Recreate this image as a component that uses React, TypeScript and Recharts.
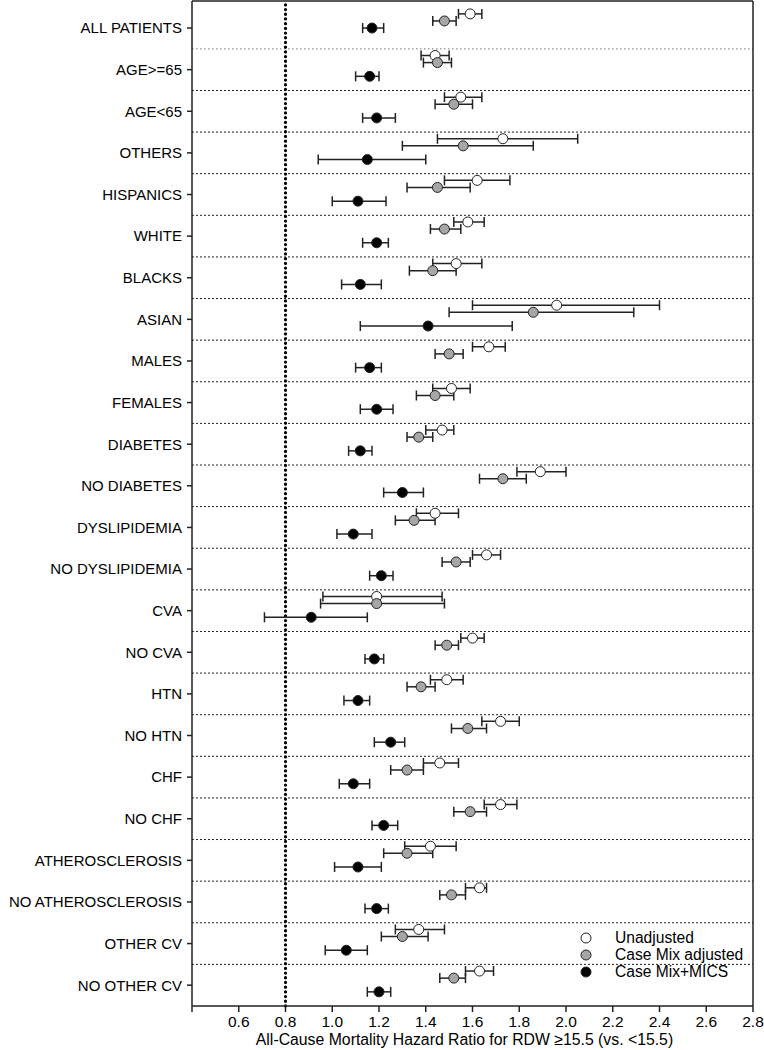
import { ErrorBar, Legend, ReferenceLine, Scatter, ScatterChart, XAxis, YAxis } from "recharts"

const categories = [
  "ALL PATIENTS", "AGE>=65", "AGE<65", "OTHERS", "HISPANICS", "WHITE", "BLACKS", "ASIAN",
  "MALES", "FEMALES", "DIABETES", "NO DIABETES", "DYSLIPIDEMIA", "NO DYSLIPIDEMIA", "CVA",
  "NO CVA", "HTN", "NO HTN", "CHF", "NO CHF", "ATHEROSCLEROSIS", "NO ATHEROSCLEROSIS",
  "OTHER CV", "NO OTHER CV",
]

const unadjusted = [1.59, 1.44, 1.55, 1.73, 1.62, 1.58, 1.53, 1.96, 1.67, 1.51, 1.47, 1.89, 1.44, 1.66, 1.19, 1.6, 1.49, 1.72, 1.46, 1.72, 1.42, 1.63, 1.37, 1.63]
const unadjustedLow = [1.54, 1.38, 1.48, 1.45, 1.48, 1.52, 1.43, 1.6, 1.6, 1.43, 1.4, 1.79, 1.36, 1.6, 0.96, 1.55, 1.42, 1.64, 1.39, 1.65, 1.31, 1.57, 1.27, 1.57]
const unadjustedHigh = [1.64, 1.5, 1.64, 2.05, 1.76, 1.65, 1.64, 2.4, 1.74, 1.59, 1.52, 2.0, 1.54, 1.72, 1.47, 1.65, 1.56, 1.8, 1.54, 1.79, 1.53, 1.66, 1.48, 1.69]

const caseMix = [1.48, 1.45, 1.52, 1.56, 1.45, 1.48, 1.43, 1.86, 1.5, 1.44, 1.37, 1.73, 1.35, 1.53, 1.19, 1.49, 1.38, 1.58, 1.32, 1.59, 1.32, 1.51, 1.3, 1.52]
const caseMixLow = [1.43, 1.39, 1.44, 1.3, 1.32, 1.42, 1.33, 1.5, 1.44, 1.36, 1.32, 1.63, 1.27, 1.47, 0.95, 1.44, 1.32, 1.51, 1.25, 1.52, 1.22, 1.46, 1.21, 1.46]
const caseMixHigh = [1.53, 1.51, 1.6, 1.86, 1.59, 1.55, 1.53, 2.29, 1.56, 1.52, 1.43, 1.83, 1.44, 1.59, 1.48, 1.54, 1.44, 1.66, 1.39, 1.66, 1.43, 1.57, 1.41, 1.57]

const mics = [1.17, 1.16, 1.19, 1.15, 1.11, 1.19, 1.12, 1.41, 1.16, 1.19, 1.12, 1.3, 1.09, 1.21, 0.91, 1.18, 1.11, 1.25, 1.09, 1.22, 1.11, 1.19, 1.06, 1.2]
const micsLow = [1.13, 1.1, 1.13, 0.94, 1.0, 1.13, 1.04, 1.12, 1.1, 1.12, 1.07, 1.22, 1.02, 1.16, 0.71, 1.14, 1.05, 1.18, 1.03, 1.17, 1.01, 1.14, 0.97, 1.15]
const micsHigh = [1.22, 1.2, 1.27, 1.4, 1.23, 1.24, 1.21, 1.77, 1.21, 1.26, 1.17, 1.39, 1.17, 1.26, 1.15, 1.22, 1.16, 1.31, 1.16, 1.28, 1.21, 1.24, 1.15, 1.25]

const xTicks = [0.4, 0.6, 0.8, 1.0, 1.2, 1.4, 1.6, 1.8, 2.0, 2.2, 2.4, 2.6, 2.8]

const FONT = "'Liberation Sans', Arial, sans-serif"
const Y_TOP = -0.65
const Y_BOTTOM = 23.5

// build one series; offset moves the dot inside its row
function rows(vals: number[], lo: number[], hi: number[], offset: (k: number) => number) {
  return vals.map((v, k) => ({ x: v, y: k + offset(k), err: [v - lo[k], hi[k] - v] }))
}

const series = [
  { name: "Unadjusted", fill: "#ffffff", data: rows(unadjusted, unadjustedLow, unadjustedHigh, () => -0.34) },
  { name: "Case Mix adjusted", fill: "#a6a6a6", data: rows(caseMix, caseMixLow, caseMixHigh, () => -0.17) },
  { name: "Case Mix+MICS", fill: "#000000", data: rows(mics, micsLow, micsHigh, (k) => (k === 0 ? 0 : 0.16)) },
]

function LegendBox() {
  return (
    <div style={{ fontFamily: FONT, fontSize: 15.6, color: "#000" }}>
      {series.map((s) => (
        <div key={s.name} style={{ height: 17, lineHeight: "17px", display: "flex", alignItems: "center" }}>
          <svg width={14} height={14} style={{ marginLeft: 1, marginRight: 22 }}>
            <circle cx={7} cy={7} r={5} fill={s.fill} stroke="#222" strokeWidth={1} />
          </svg>
          <span>{s.name}</span>
        </div>
      ))}
    </div>
  )
}

export default function App() {
  return (
    <div style={{ position: "absolute", left: 0, top: 0 }}>
      <ScatterChart width={764} height={1050} margin={{ top: 1, right: 11, bottom: 0, left: 0 }} style={{ fontFamily: FONT }}>
        <XAxis
          type="number"
          dataKey="x"
          domain={[0.4, 2.8]}
          ticks={xTicks}
          allowDataOverflow
          tickFormatter={(v: number) => (v === 0.4 ? "" : v.toFixed(1))}
          tick={{ fontSize: 15.5, fill: "#000", fontFamily: FONT }}
          tickSize={6}
          tickMargin={4}
          height={44}
          stroke="#222"
          strokeWidth={1.5}
          label={{ value: "All-Cause Mortality Hazard Ratio for RDW ≥15.5 (vs. <15.5)", position: "insideBottom", offset: 5, dx: -8, fontSize: 15.8, fill: "#000", fontFamily: FONT }}
        />
        <YAxis
          type="number"
          dataKey="y"
          domain={[Y_TOP, Y_BOTTOM]}
          reversed
          allowDataOverflow
          ticks={categories.map((_, k) => k)}
          interval={0}
          tickFormatter={(k: number) => categories[k] ?? ""}
          tick={{ fontSize: 15, fill: "#000", fontFamily: FONT }}
          tickSize={5}
          tickMargin={5}
          width={192}
          stroke="#222"
          strokeWidth={1.5}
        />
        {categories.slice(1).map((_, k) => (
          <ReferenceLine
            key={k}
            y={k + 0.5}
            stroke={k === 0 ? "#777" : "#222"}
            strokeWidth={1}
            strokeDasharray={k === 0 ? "1.5 2.5" : "2 2"}
          />
        ))}
        <ReferenceLine x={0.8} stroke="#000" strokeWidth={3.2} strokeDasharray="0.1 4.6" strokeLinecap="round" />
        <ReferenceLine x={2.8} stroke="#222" strokeWidth={1.5} />
        <ReferenceLine y={Y_TOP} stroke="#222" strokeWidth={1.5} />
        {series.map((s) => (
          <Scatter
            key={s.name}
            name={s.name}
            data={s.data}
            isAnimationActive={false}
            shape={(p: any) => <circle cx={p.cx} cy={p.cy} r={5} fill={s.fill} stroke="#222" strokeWidth={1} />}
          >
            <ErrorBar dataKey="err" direction="x" width={5} stroke="#222" strokeWidth={1.5} />
          </Scatter>
        ))}
        <Legend
          layout="vertical"
          align="center"
          verticalAlign="middle"
          content={() => <LegendBox />}
          wrapperStyle={{ left: 578, top: 929, width: 180 }}
        />
      </ScatterChart>
    </div>
  )
}
